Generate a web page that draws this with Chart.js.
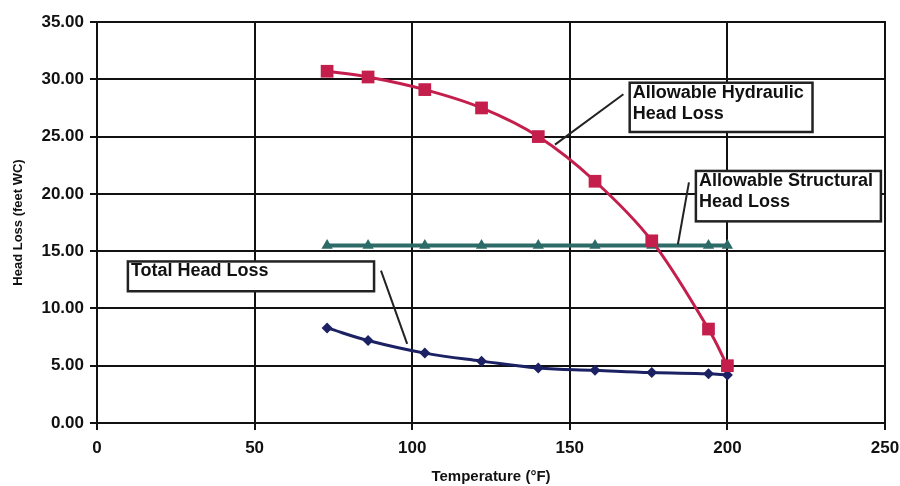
<!DOCTYPE html>
<html>
<head>
<meta charset="utf-8">
<script src="https://cdn.jsdelivr.net/npm/chart.js@4.4.0/dist/chart.umd.min.js"></script>
<style>
  html, body { margin: 0; padding: 0; background: #fff; }
  #wrap { width: 900px; height: 486px; }
</style>
</head>
<body>
<div id="wrap"><canvas id="chart"></canvas></div>
<script>
// temperatures (°F)
const temps = [73, 86, 104, 122, 140, 158, 176, 194, 200];
const hydraulic = [30.7, 30.2, 29.1, 27.5, 25.0, 21.1, 15.9, 8.2, 5.0];
const structural = [15.5, 15.5, 15.5, 15.5, 15.5, 15.5, 15.5, 15.5, 15.5];
const totalLoss = [8.3, 7.2, 6.1, 5.4, 4.8, 4.6, 4.4, 4.3, 4.2];
const xTicks = [0, 50, 100, 150, 200, 250];
const yTicks = [0, 5, 10, 15, 20, 25, 30, 35];

const pts = vals => temps.map((t, i) => ({ x: t, y: vals[i] }));

const FONT = "'Liberation Sans', Arial, sans-serif";

// callout boxes with leader lines, in data units
const callouts = [
  { lines: ['Allowable Hydraulic', 'Head Loss'], box: [169, 29.7, 227, 25.4], lead: [167, 28.7, 145.3, 24.3] },
  { lines: ['Allowable Structural', 'Head Loss'], box: [190, 22.0, 248.7, 17.6], lead: [187.8, 21.0, 184.3, 15.6] },
  { lines: ['Total Head Loss'], box: [9.8, 14.1, 87.9, 11.5], lead: [90.1, 13.3, 98.4, 6.9] }
];

const calloutPlugin = {
  id: 'callouts',
  afterDatasetsDraw(chart) {
    const { ctx, scales: { x, y } } = chart;
    ctx.save();
    callouts.forEach(c => {
      ctx.strokeStyle = '#222';
      ctx.lineWidth = 2;
      ctx.beginPath();
      ctx.moveTo(x.getPixelForValue(c.lead[0]), y.getPixelForValue(c.lead[1]));
      ctx.lineTo(x.getPixelForValue(c.lead[2]), y.getPixelForValue(c.lead[3]));
      ctx.stroke();
      const l = x.getPixelForValue(c.box[0]), t = y.getPixelForValue(c.box[1]);
      const r = x.getPixelForValue(c.box[2]), b = y.getPixelForValue(c.box[3]);
      ctx.fillStyle = '#fff';
      ctx.fillRect(l, t, r - l, b - t);
      ctx.lineWidth = 2.5;
      ctx.strokeRect(l, t, r - l, b - t);
      ctx.fillStyle = '#111';
      ctx.font = 'bold 18px ' + FONT;
      ctx.textBaseline = 'top';
      c.lines.forEach((s, i) => ctx.fillText(s, l + 3, t + 1 + i * 21));
    });
    ctx.restore();
  }
};

new Chart(document.getElementById('chart'), {
  type: 'scatter',
  data: {
    datasets: [
      {
        label: 'Allowable Hydraulic Head Loss',
        data: pts(hydraulic),
        showLine: true,
        borderColor: '#C41E4C',
        backgroundColor: '#C41E4C',
        borderWidth: 3,
        tension: 0.35,
        pointStyle: 'rect',
        pointRadius: 9,
        pointBorderWidth: 0
      },
      {
        label: 'Allowable Structural Head Loss',
        data: pts(structural),
        showLine: true,
        borderColor: '#2C6B67',
        backgroundColor: '#2C6B67',
        borderWidth: 4,
        pointStyle: 'triangle',
        pointRadius: 6.5,
        pointBorderWidth: 0
      },
      {
        label: 'Total Head Loss',
        data: pts(totalLoss),
        showLine: true,
        borderColor: '#1B2163',
        backgroundColor: '#1B2163',
        borderWidth: 3,
        tension: 0.4,
        pointStyle: 'rectRot',
        pointRadius: 5.5,
        pointBorderWidth: 0
      }
    ]
  },
  options: {
    responsive: true,
    maintainAspectRatio: false,
    animation: false,
    layout: { padding: { top: 22, right: 15, left: 0, bottom: 0 } },
    plugins: { legend: { display: false }, tooltip: { enabled: false } },
    scales: {
      x: {
        type: 'linear',
        min: 0, max: 250,
        afterBuildTicks: s => { s.ticks = xTicks.map(v => ({ value: v })); },
        afterFit: s => { s.height = 63; s.paddingRight = 0; s.paddingLeft = 0; },
        grid: { color: '#111', lineWidth: 2, tickLength: 7, tickColor: '#111' },
        border: { color: '#111', width: 2 },
        ticks: { color: '#111', padding: 8, font: { family: FONT, size: 17, weight: 'bold' } },
        title: {
          display: true, text: 'Temperature (°F)', color: '#111',
          padding: 0, font: { family: FONT, size: 15, weight: 'bold' }
        }
      },
      y: {
        min: 0, max: 35,
        afterBuildTicks: s => { s.ticks = yTicks.map(v => ({ value: v })); },
        afterFit: s => { s.width = 97; s.paddingTop = 0; s.paddingBottom = 0; },
        grid: { color: '#111', lineWidth: 2, tickLength: 7, tickColor: '#111' },
        border: { color: '#111', width: 2 },
        ticks: {
          color: '#111', padding: 6,
          font: { family: FONT, size: 17, weight: 'bold' },
          callback: v => v.toFixed(2)
        },
        title: {
          display: true, text: 'Head Loss (feet WC)', color: '#111',
          padding: { top: 11, bottom: 0 }, font: { family: FONT, size: 13, weight: 'bold' }
        }
      }
    }
  },
  plugins: [calloutPlugin, {
    id: 'frame',
    afterDraw(chart) {
      const { ctx, chartArea: a } = chart;
      ctx.save();
      ctx.strokeStyle = '#111';
      ctx.lineWidth = 2;
      ctx.strokeRect(a.left, a.top, a.right - a.left, a.bottom - a.top);
      ctx.restore();
    }
  }]
});
</script>
</body>
</html>
